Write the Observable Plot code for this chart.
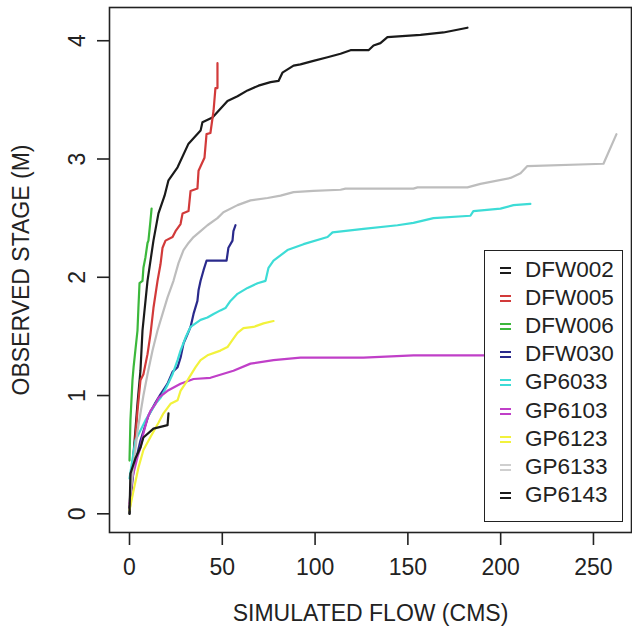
<!DOCTYPE html>
<html><head><meta charset="utf-8">
<script src="https://cdn.jsdelivr.net/npm/d3@7"></script>
<script src="https://cdn.jsdelivr.net/npm/@observablehq/plot@0.6"></script>
<style>
body{margin:0;background:#fff;}
#wrap{position:relative;width:632px;height:627px;font-family:"Liberation Sans",Arial,sans-serif;color:#222;}
#legend{position:absolute;left:484px;top:250px;width:139px;height:272px;border:1.5px solid #222;background:#fff;box-sizing:border-box;}
.item{position:absolute;left:0;height:28px;line-height:28px;font-size:22.5px;}
.sym{position:absolute;left:15px;top:11px;width:11px;height:3px;border-top:2px solid;border-bottom:2px solid;}
.lab{position:absolute;left:40px;top:0;white-space:nowrap;}
</style>
</head><body>
<div id="wrap"><div id="chart"></div><div id="legend"></div></div>
<script>
const seriesNames = ["DFW002","DFW005","DFW006","DFW030","GP6033","GP6103","GP6123","GP6133","GP6143"];
const seriesColors = ["#1a1a1a","#d23a3a","#3cb83c","#2a2a8c","#3ddcd6","#c03fc8","#f2f23c","#bdbdbd","#1a1a1a"];
const legendSymColors = ["#1a1a1a","#d23a3a","#3cb83c","#2a2a8c","#3ddcd6","#c03fc8","#f2f23c","#cfcfcf","#1a1a1a"];
const xTicks = [0,50,100,150,200,250];
const yTicks = [0,1,2,3,4];

const x_DFW002 = [0,1.6,4.3,5.9,7.0,9.7,12.9,15.6,18.9,21,25.9,31.8,38.3,39.3,44.7,52.8,58.2,63.6,69.5,76,80.3,82.4,88.4,92.1,99.1,106.7,113.7,119.1,128.8,131.5,135.2,139,156.8,169.2,182.1];
const y_DFW002 = [0,0.39,0.93,1.21,1.55,1.97,2.31,2.54,2.69,2.82,2.93,3.13,3.24,3.31,3.35,3.49,3.53,3.58,3.62,3.65,3.66,3.73,3.79,3.80,3.83,3.86,3.89,3.92,3.92,3.96,3.98,4.03,4.05,4.07,4.11];
const x_DFW005 = [0,2.2,4.3,5.9,7.5,9.7,11.3,12.9,15.1,16.7,17.8,19.4,23.2,24.8,27.5,28.6,31.8,32.9,36.6,37.2,40.4,41.5,43.6,45.3,46.3,47.4,47.4];
const y_DFW005 = [0.05,0.45,0.87,1.13,1.18,1.35,1.52,1.74,1.97,2.11,2.25,2.31,2.34,2.39,2.45,2.54,2.56,2.73,2.75,2.90,3.01,3.21,3.22,3.41,3.60,3.60,3.81];
const x_DFW006 = [0,0.5,1.6,2.2,4.3,4.8,5.4,7,7.5,8.6,9.7,10.2,11.3,11.9];
const y_DFW006 = [0.45,0.79,1.13,1.24,1.55,1.74,1.95,1.97,2.08,2.17,2.29,2.31,2.48,2.58];
const x_DFW030 = [0,2.2,5.9,10.2,14,16.7,20.5,23.2,25.9,27.5,29.1,31.3,32.9,34.5,36.6,37.2,38.3,39.9,41.5,52.3,53.3,55.5,56,57.1];
const y_DFW030 = [0.05,0.37,0.62,0.83,0.94,1.01,1.10,1.20,1.24,1.32,1.44,1.52,1.58,1.69,1.80,1.89,1.97,2.06,2.14,2.14,2.25,2.31,2.39,2.44];
const x_GP6033 = [0,3.2,8.6,14,16.7,20.5,23.2,25.9,27.5,30.2,32.9,38.3,42,45.3,49,51.7,54.4,58.2,63.6,69,73.3,74.9,77.6,85.1,93.8,106.7,109.4,126.1,144.4,153,163.8,183.7,185.3,199.9,206.9,216];
const y_GP6033 = [0.30,0.62,0.79,0.93,0.98,1.09,1.18,1.30,1.38,1.49,1.58,1.64,1.66,1.69,1.72,1.74,1.80,1.86,1.91,1.95,1.97,2.08,2.14,2.23,2.28,2.34,2.38,2.41,2.44,2.46,2.50,2.52,2.56,2.58,2.61,2.62];
const x_GP6103 = [0,1.6,4.3,5.9,7.5,9.7,11.3,14,15.6,20.5,27.5,34.5,43.6,56,65.2,77.6,92.1,126.1,153,194.5,215];
const y_GP6103 = [0.09,0.31,0.48,0.56,0.68,0.81,0.87,0.93,0.98,1.04,1.10,1.14,1.15,1.21,1.27,1.30,1.32,1.32,1.34,1.34,1.34];
const x_GP6123 = [0,2.2,4.8,7.5,11.3,15.6,18.3,22.1,25.9,27.5,31.3,35.6,38.3,42,49,52.8,55.5,58.2,61.4,66.8,72.2,77.6];
const y_GP6123 = [0.03,0.20,0.39,0.54,0.65,0.77,0.85,0.93,0.96,1.04,1.13,1.24,1.30,1.34,1.38,1.41,1.47,1.53,1.57,1.58,1.61,1.63];
const x_GP6133 = [0,4.3,7.5,9.7,12.4,15.1,17.8,20.5,23.7,26.4,29.1,31.8,34.5,38.3,42,47.4,50.6,58.2,65.2,74.4,81.4,88.4,99.1,113.7,116.4,153,155.2,182.1,189.1,205.3,210.7,214.4,255.4,262.4];
const y_GP6133 = [0.11,0.70,1.00,1.18,1.38,1.55,1.69,1.83,1.97,2.12,2.23,2.29,2.34,2.39,2.44,2.50,2.55,2.61,2.65,2.67,2.69,2.72,2.73,2.74,2.75,2.75,2.76,2.76,2.79,2.84,2.88,2.94,2.96,3.21];
const x_GP6143 = [0,0.5,3.2,5.9,7.5,12.9,20.5,21];
const y_GP6143 = [0,0.34,0.47,0.56,0.645,0.72,0.75,0.85];

const xs = [x_DFW002,x_DFW005,x_DFW006,x_DFW030,x_GP6033,x_GP6103,x_GP6123,x_GP6133,x_GP6143];
const ys = [y_DFW002,y_DFW005,y_DFW006,y_DFW030,y_GP6033,y_GP6103,y_GP6123,y_GP6133,y_GP6143];
const rows = [];
seriesNames.forEach((s,i)=>xs[i].forEach((v,j)=>rows.push({series:s, flow:v, stage:ys[i][j]})));

const chart = Plot.plot({
  width: 632, height: 627,
  marginLeft: 109, marginRight: 1, marginTop: 7, marginBottom: 95,
  style: {fontFamily: '"Liberation Sans", Arial, sans-serif', fontSize: "23px", color: "#222", background: "#fff"},
  x: {domain: [-10.78, 270.5]},
  y: {domain: [-0.158, 4.281]},
  color: {domain: seriesNames, range: seriesColors},
  marks: [
    Plot.line(rows, {x: "flow", y: "stage", z: "series", stroke: "series", strokeWidth: 2.2}),
    Plot.frame({stroke: "#222", strokeWidth: 1.6}),
    Plot.axisX({ticks: xTicks, tickFormat: d3.format("d"), tickSize: 13, tickPadding: 13, stroke: "#222", strokeWidth: 1.6,
      label: "SIMULATED FLOW (CMS)", labelAnchor: "center", labelOffset: 88, labelArrow: "none"}),
    Plot.axisY({ticks: yTicks, tickFormat: d3.format("d"), tickSize: 12, tickPadding: 13, tickRotate: -90, stroke: "#222", strokeWidth: 1.6,
      label: "OBSERVED STAGE (M)", labelAnchor: "center", labelOffset: 97, labelArrow: "none"})
  ]
});
document.getElementById("chart").appendChild(chart);

const leg = document.getElementById("legend");
seriesNames.forEach((s,i)=>{
  const it = document.createElement("div");
  it.className = "item";
  it.style.top = (5 + i*28.1) + "px";
  it.style.width = "100%";
  const sym = document.createElement("span");
  sym.className = "sym";
  sym.style.borderColor = legendSymColors[i];
  const lab = document.createElement("span");
  lab.className = "lab";
  lab.textContent = s;
  it.appendChild(sym); it.appendChild(lab);
  leg.appendChild(it);
});
</script>
</body></html>
